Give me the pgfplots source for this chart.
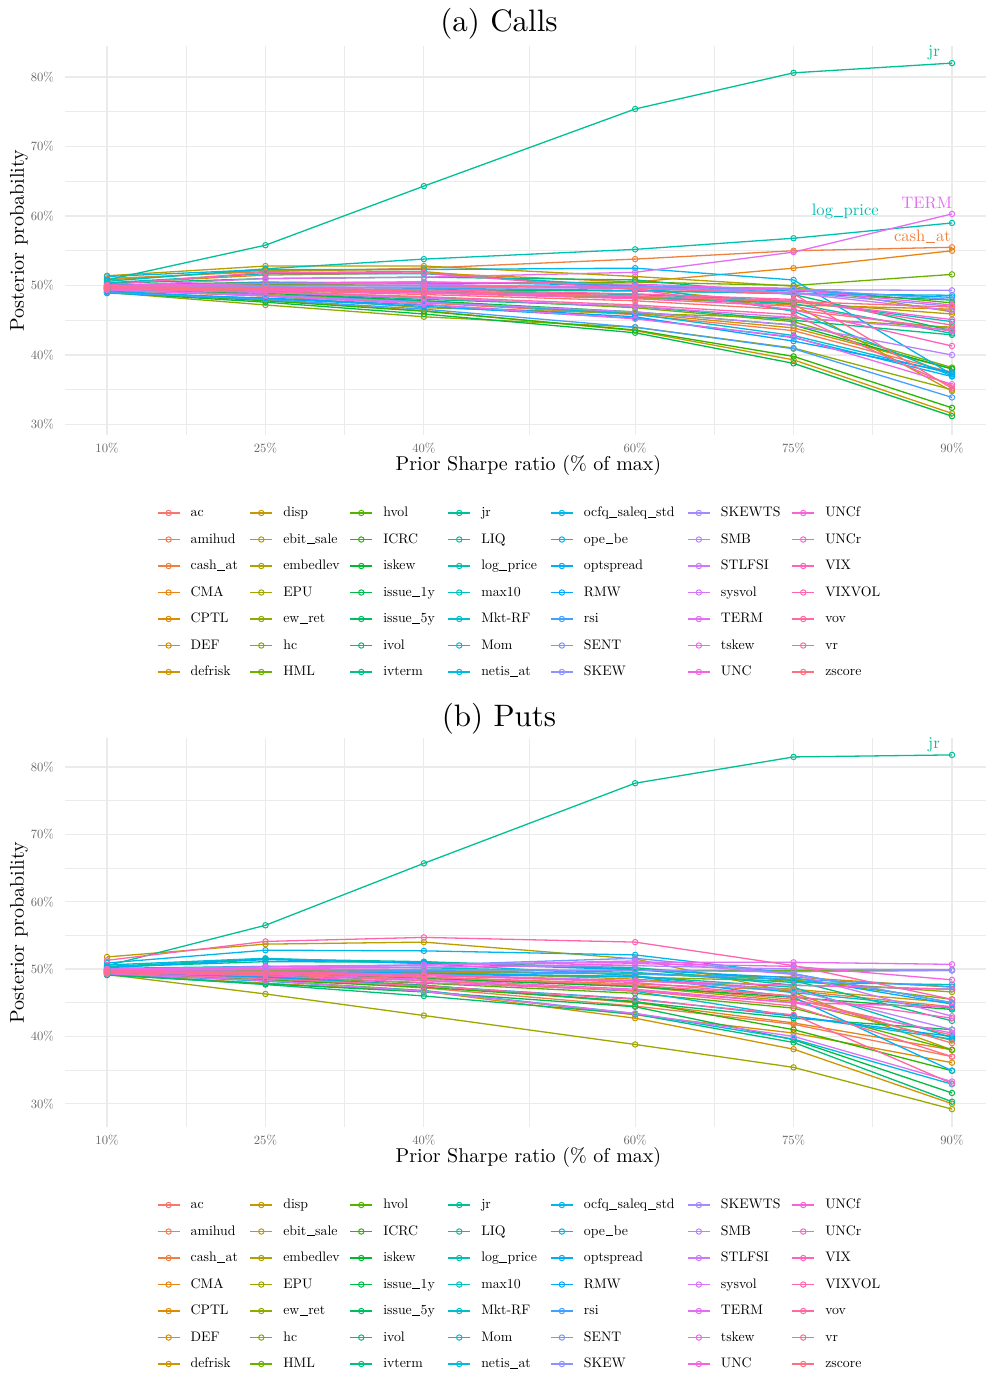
\documentclass[border=0pt]{standalone}
\DeclareFontFamily{TU}{lmten}{}
\DeclareFontShape{TU}{lmten}{m}{n}{<-> \UnicodeFontFile{lmroman10-regular}{\UnicodeFontTeXLigatures}}{}
\renewcommand\rmdefault{lmten}
\usepackage{pgfplots}
\pgfplotsset{compat=1.18}
\definecolor{gridc}{RGB}{235,235,235}
\newcommand\us{\kern0.04em\rule[-0.07em]{0.56em}{0.045em}\kern0.04em}
\newcommand\LA[1]{\makebox[29.5pt][l]{#1}}
\newcommand\LB[1]{\makebox[33.15pt][l]{#1}}
\newcommand\LC[1]{\makebox[32.15pt][l]{#1}}
\newcommand\LD[1]{\makebox[34.5pt][l]{#1}}
\newcommand\LE[1]{\makebox[51.65pt][l]{#1}}
\newcommand\LF[1]{\makebox[35.35pt][l]{#1}}
\newcommand\LG[1]{\makebox[30pt][l]{#1}}
% ggplot2 hue palette, hcl(h, c=100, l=65), 49 hues
\newcommand\gam[1]{min(1,max(0,((#1)<=0.0031308)?(12.92*(#1)):(1.055*(max((#1),0.0031308))^(1/2.4)-0.055)))}
\newcommand\defhue[2]{%
 \edef\hH{\fpeval{15+360*#2/49}}%
 \edef\hU{\fpeval{100*cosd(\hH)/845+0.197839}}%
 \edef\hV{\fpeval{100*sind(\hH)/845+0.468336}}%
 \edef\hX{\fpeval{0.340474*9*\hU/(4*\hV)}}%
 \edef\hZ{\fpeval{0.340474*(12-3*\hU-20*\hV)/(4*\hV)}}%
 \edef\hR{\fpeval{3.240479*\hX-0.523366-0.498535*\hZ}}%
 \edef\hG{\fpeval{-0.969256*\hX+0.638727+0.041556*\hZ}}%
 \edef\hB{\fpeval{0.055648*\hX-0.069472+1.057311*\hZ}}%
 \edef\hRr{\fpeval{round(\gam{\hR},4)}}%
 \edef\hGg{\fpeval{round(\gam{\hG},4)}}%
 \edef\hBb{\fpeval{round(\gam{\hB},4)}}%
 \definecolor{#1}{rgb}{\hRr,\hGg,\hBb}}
\pgfplotsforeachungrouped \i in {0,...,48}{\edef\tmp{\noexpand\defhue{c\i}{\i}}\tmp}
\newcommand\ser[7]{\addplot[color=#1] coordinates {(10,#2)(25,#3)(40,#4)(60,#5)(75,#6)(90,#7)};}
\pgfplotsset{
 panel/.style={
  scale only axis, width=460.5pt, height=194.5pt,
  xmin=6.02, xmax=93.22, clip=false,
  xtick={10,25,40,60,75,90}, xticklabels={10\%,25\%,40\%,60\%,75\%,90\%},
  minor xtick={17.5,32.5,50,67.5,82.5},
  ytick={30,40,50,60,70,80}, yticklabels={30\%,40\%,50\%,60\%,70\%,80\%},
  minor ytick={35,45,55,65,75},
  grid=both,
  major grid style={line width=0.6pt, color=gridc},
  minor grid style={line width=0.35pt, color=gridc},
  axis line style={draw=none}, tick style={draw=none},
  major tick length=0pt, minor tick length=0pt,
  tick label style={font=\fontsize{6.3}{7}\selectfont, text=black!60},
  yticklabel style={xshift=-2pt},
  xticklabel style={yshift=-0.6pt},
  label style={font=\fontsize{8.4}{10}\selectfont},
  xlabel={Prior Sharpe ratio (\% of max)},
  ylabel={Posterior probability},
  every axis x label/.style={at={(axis description cs:0.5,0)}, anchor=base, yshift=-17.5pt, xshift=1.5pt},
  every axis y label/.style={at={(axis description cs:-0.0499,0.5)}, rotate=90, anchor=center},
  every axis plot/.append style={line width=0.65pt, mark=o, mark size=1.35pt, mark options={line width=0.5pt}},
  legend columns=7, transpose legend, legend cell align=left,
  legend image code/.code={\draw[mark repeat=2,mark phase=2] plot coordinates {(0cm,0cm)(0.193cm,0cm)(0.386cm,0cm)};},
  legend style={at={(0.0999,-0.1838)}, anchor=north west, draw=none, fill=none,
   inner sep=0pt, outer sep=0pt, font=\fontsize{6.9}{8}\selectfont,
   nodes={inner sep=0pt, text height=5pt, text depth=1.5pt},
   row sep=6.75pt, column sep=0pt,
   /tikz/every odd column/.append style={column sep=5.2pt},
   /tikz/every even column/.append style={column sep=0pt}},
  legend entries={\LA{ac},\LA{amihud},\LA{cash\us at},\LA{CMA},\LA{CPTL},\LA{DEF},\LA{defrisk},
   \LB{disp},\LB{ebit\us sale},\LB{embedlev},\LB{EPU},\LB{ew\us ret},\LB{hc},\LB{HML},
   \LC{hvol},\LC{ICRC},\LC{iskew},\LC{issue\us 1y},\LC{issue\us 5y},\LC{ivol},\LC{ivterm},
   \LD{jr},\LD{LIQ},\LD{log\us price},\LD{max10},\LD{Mkt-RF},\LD{Mom},\LD{netis\us at},
   \LE{ocfq\us saleq\us std},\LE{ope\us be},\LE{optspread},\LE{RMW},\LE{rsi},\LE{SENT},\LE{SKEW},
   \LF{SKEWTS},\LF{SMB},\LF{STLFSI},\LF{sysvol},\LF{TERM},\LF{tskew},\LF{UNC},
   \LG{UNCf},\LG{UNCr},\LG{VIX},\LG{VIXVOL},\LG{vov},\LG{vr},\LG{zscore}},
 }
}
\begin{document}
\begin{tikzpicture}
\useasboundingbox (0,0) rectangle (493pt,-688pt);
\node[font=\fontsize{15.5}{18}\selectfont, anchor=base] at (249.5pt,-16pt) {(a) Calls};
\begin{axis}[panel, at={(32.5pt,-23pt)}, anchor=north west, ymin=28.49, ymax=84.46]
\ser{c0}{49.6}{49.3}{48.7}{47.8}{46.5}{43.8}
\ser{c1}{49.3}{48.5}{47.5}{45.8}{43.5}{37.5}
\ser{c2}{51.0}{52.0}{52.5}{53.8}{55.0}{55.5}
\ser{c3}{50.3}{51.5}{51.8}{50.5}{52.5}{55.0}
\ser{c4}{49.8}{49.6}{49.0}{48.3}{47.2}{46.6}
\ser{c5}{49.5}{48.7}{47.8}{46.0}{43.9}{38.0}
\ser{c6}{49.2}{47.9}{46.4}{43.5}{39.3}{31.6}
\ser{c7}{50.8}{52.2}{52.0}{49.5}{47.3}{34.8}
\ser{c8}{51.4}{52.8}{52.8}{51.3}{49.9}{46.2}
\ser{c9}{49.7}{49.4}{49.0}{48.2}{47.6}{45.9}
\ser{c10}{49.4}{48.5}{46.8}{46.0}{45.3}{44.0}
\ser{c11}{49.0}{47.2}{45.5}{44.0}{41.0}{35.0}
\ser{c12}{49.6}{49.2}{48.3}{46.8}{44.8}{38.2}
\ser{c13}{50.0}{50.5}{50.3}{50.5}{50.0}{51.6}
\ser{c14}{49.8}{50.2}{50.0}{49.8}{49.6}{47.5}
\ser{c15}{49.1}{47.8}{46.3}{43.6}{39.8}{32.4}
\ser{c16}{49.4}{48.9}{47.8}{46.2}{44.3}{38.0}
\ser{c17}{49.0}{47.6}{45.9}{43.2}{38.8}{31.2}
\ser{c18}{49.7}{49.5}{49.4}{49.2}{48.9}{47.9}
\ser{c19}{50.3}{51.0}{51.2}{50.8}{48.7}{43.5}
\ser{c20}{49.5}{49.0}{48.0}{47.0}{45.0}{42.9}
\ser{c21}{50.8}{55.8}{64.3}{75.4}{80.6}{82.0}
\ser{c22}{49.6}{49.4}{49.1}{48.4}{47.4}{43.1}
\ser{c23}{50.6}{52.4}{53.8}{55.2}{56.8}{59.0}
\ser{c24}{49.8}{49.5}{49.2}{48.7}{47.8}{44.8}
\ser{c25}{50.4}{51.7}{51.7}{49.9}{46.3}{37.0}
\ser{c26}{49.4}{48.6}{47.7}{45.9}{42.8}{37.3}
\ser{c27}{49.9}{49.8}{49.6}{49.3}{48.8}{48.6}
\ser{c28}{51.3}{52.3}{52.3}{52.5}{50.8}{37.2}
\ser{c29}{49.2}{48.1}{47.0}{45.3}{42.5}{36.9}
\ser{c30}{50.1}{50.4}{50.5}{50.0}{49.2}{48.3}
\ser{c31}{48.9}{48.2}{47.2}{45.5}{42.0}{37.5}
\ser{c32}{49.0}{48.0}{46.6}{44.0}{40.9}{33.9}
\ser{c33}{49.7}{49.7}{49.8}{49.9}{49.5}{48.0}
\ser{c34}{49.8}{49.9}{50.0}{49.8}{49.0}{47.0}
\ser{c35}{50.0}{49.6}{49.7}{49.6}{49.4}{49.3}
\ser{c36}{49.4}{48.6}{47.6}{46.2}{44.3}{40.0}
\ser{c37}{49.9}{50.3}{50.2}{49.6}{48.9}{46.4}
\ser{c38}{49.5}{49.0}{48.2}{47.0}{45.4}{43.6}
\ser{c39}{49.9}{51.0}{51.2}{51.9}{54.8}{60.3}
\ser{c40}{49.4}{48.5}{47.3}{45.2}{42.6}{35.8}
\ser{c41}{50.0}{50.3}{50.5}{50.2}{49.4}{47.2}
\ser{c42}{49.7}{49.4}{49.0}{48.4}{47.8}{45.1}
\ser{c43}{49.6}{49.3}{48.9}{48.1}{47.0}{43.4}
\ser{c44}{50.1}{51.9}{51.8}{49.4}{46.5}{41.3}
\ser{c45}{49.8}{49.6}{49.4}{48.8}{48.0}{44.3}
\ser{c46}{49.5}{49.1}{48.4}{47.2}{45.8}{35.5}
\ser{c47}{49.9}{50.0}{50.0}{49.6}{48.8}{35.2}
\ser{c48}{49.7}{49.5}{49.2}{48.5}{47.7}{46.9}
\node[text=c21, font=\fontsize{8.3}{9}\selectfont] at (axis cs:88.3,83.45) {jr};
\node[text=c23, font=\fontsize{8.3}{9}\selectfont] at (axis cs:79.9,60.6) {log\us price};
\node[text=c39, font=\fontsize{8.3}{9}\selectfont] at (axis cs:87.6,61.9) {TERM};
\node[text=c2, font=\fontsize{8.3}{9}\selectfont] at (axis cs:87.2,57.1) {cash\us at};
\end{axis}
\node[font=\fontsize{15.5}{18}\selectfont, anchor=base] at (249.5pt,-363.3pt) {(b) Puts};
\begin{axis}[panel, at={(32.5pt,-369pt)}, anchor=north west, ymin=26.54, ymax=84.31]
\ser{c0}{49.6}{49.3}{48.6}{47.5}{45.5}{40.2}
\ser{c1}{49.4}{48.6}{47.2}{44.5}{41.8}{37.0}
\ser{c2}{49.8}{49.5}{48.8}{47.8}{46.8}{44.4}
\ser{c3}{49.5}{48.8}{47.6}{45.0}{42.0}{38.0}
\ser{c4}{49.7}{49.6}{49.5}{49.3}{48.8}{47.3}
\ser{c5}{49.3}{48.3}{46.8}{43.2}{40.5}{36.1}
\ser{c6}{49.2}{47.9}{46.7}{42.7}{38.1}{30.0}
\ser{c7}{49.8}{49.8}{49.6}{48.5}{47.0}{45.0}
\ser{c8}{51.8}{53.7}{54.0}{51.5}{46.5}{38.0}
\ser{c9}{49.6}{49.2}{48.6}{47.4}{45.2}{39.4}
\ser{c10}{49.2}{46.3}{43.1}{38.8}{35.4}{29.2}
\ser{c11}{49.7}{49.6}{49.3}{48.8}{48.2}{46.6}
\ser{c12}{49.8}{50.0}{49.7}{49.3}{48.4}{45.5}
\ser{c13}{49.9}{49.9}{49.9}{49.8}{49.8}{49.8}
\ser{c14}{49.5}{48.9}{47.9}{46.4}{44.2}{38.0}
\ser{c15}{49.3}{48.4}{47.3}{45.2}{41.0}{34.9}
\ser{c16}{49.6}{49.3}{48.6}{47.4}{45.8}{44.0}
\ser{c17}{49.1}{47.8}{46.6}{44.4}{39.5}{31.6}
\ser{c18}{49.4}{48.8}{47.6}{45.1}{42.7}{41.0}
\ser{c19}{49.2}{47.7}{46.0}{43.3}{39.1}{30.3}
\ser{c20}{50.3}{51.1}{51.0}{50.2}{48.3}{42.3}
\ser{c21}{50.5}{56.5}{65.7}{77.6}{81.5}{81.8}
\ser{c22}{50.4}{51.5}{51.1}{50.0}{47.6}{47.0}
\ser{c23}{49.7}{49.5}{49.2}{48.9}{47.3}{39.8}
\ser{c24}{50.1}{50.4}{50.2}{49.5}{48.0}{47.7}
\ser{c25}{49.5}{49.1}{48.3}{46.7}{43.0}{39.6}
\ser{c26}{50.6}{51.6}{50.8}{49.0}{46.5}{44.2}
\ser{c27}{49.3}{48.2}{46.8}{43.4}{39.6}{32.9}
\ser{c28}{50.9}{52.8}{52.7}{52.1}{49.3}{45.0}
\ser{c29}{49.8}{49.6}{49.4}{48.9}{45.8}{34.9}
\ser{c30}{50.2}{51.4}{50.9}{49.9}{48.7}{44.8}
\ser{c31}{49.5}{48.8}{47.5}{45.6}{43.0}{40.0}
\ser{c32}{50.0}{50.0}{49.8}{49.3}{48.5}{47.4}
\ser{c33}{49.9}{50.4}{50.6}{51.6}{49.3}{45.0}
\ser{c34}{49.8}{49.9}{49.9}{49.8}{49.6}{49.8}
\ser{c35}{50.0}{50.1}{50.3}{50.5}{50.0}{49.9}
\ser{c36}{49.7}{49.6}{49.2}{48.3}{46.9}{41.0}
\ser{c37}{49.8}{50.0}{50.6}{51.2}{49.2}{43.0}
\ser{c38}{49.3}{48.3}{46.7}{43.4}{40.0}{33.3}
\ser{c39}{50.0}{50.3}{50.6}{51.0}{51.0}{50.7}
\ser{c40}{49.6}{49.3}{48.5}{47.0}{45.0}{40.5}
\ser{c41}{49.9}{50.1}{50.2}{50.8}{50.4}{48.4}
\ser{c42}{49.5}{49.0}{48.0}{46.8}{45.0}{44.4}
\ser{c43}{49.7}{49.5}{49.0}{48.2}{47.6}{47.0}
\ser{c44}{49.8}{49.6}{49.2}{48.0}{46.0}{42.7}
\ser{c45}{51.3}{54.1}{54.7}{54.0}{50.5}{45.5}
\ser{c46}{49.4}{48.6}{47.5}{45.5}{43.2}{33.0}
\ser{c47}{49.5}{49.2}{48.3}{46.8}{44.5}{37.0}
\ser{c48}{49.7}{49.4}{48.8}{47.6}{46.0}{39.0}
\node[text=c21, font=\fontsize{8.3}{9}\selectfont] at (axis cs:88.3,83.3) {jr};
\end{axis}
\end{tikzpicture}
\end{document}
